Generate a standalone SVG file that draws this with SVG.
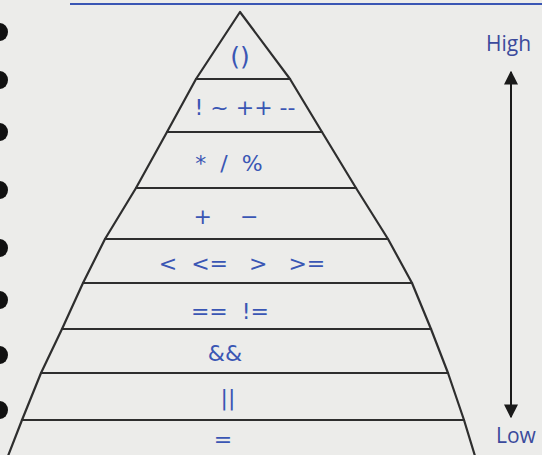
<svg xmlns="http://www.w3.org/2000/svg" width="542" height="455" viewBox="0 0 542 455">
<defs>
<style>
.bg{fill:#ececea}
.tier{fill:none;stroke:#2e2e2e;stroke-width:2.2;stroke-linejoin:round}
.op{font-family:"DejaVu Sans",sans-serif;font-size:22px;fill:#3a56b4;text-anchor:middle}
.lbl{font-family:"Open Sans","DejaVu Sans",sans-serif;font-size:21px;fill:#3b4a9c}
.hole{fill:#111}
.conn{stroke:#1a1a1a;stroke-width:2;fill:none}
</style>
<marker id="ah" viewBox="0 0 10 10" refX="9" refY="5" markerWidth="7" markerHeight="7" orient="auto-start-reverse" markerUnits="strokeWidth">
<path d="M0,0 L10,5 L0,10 Z" fill="#1a1a1a"/>
</marker>
</defs>
<rect class="bg" x="0" y="0" width="542" height="455"/>
<line x1="70" y1="4" x2="542" y2="4" stroke="#3a56b4" stroke-width="2"/>
<g id="holes">
<ellipse class="hole" cx="0" cy="32" rx="8" ry="9"/>
<ellipse class="hole" cx="0" cy="80" rx="8" ry="9"/>
<ellipse class="hole" cx="0" cy="132" rx="8" ry="9"/>
<ellipse class="hole" cx="0" cy="190" rx="8" ry="9"/>
<ellipse class="hole" cx="0" cy="248" rx="8" ry="9"/>
<ellipse class="hole" cx="0" cy="300" rx="8" ry="9"/>
<ellipse class="hole" cx="0" cy="355" rx="8" ry="9"/>
<ellipse class="hole" cx="0" cy="410" rx="8" ry="9"/>
</g>
<g id="tier1"><polygon class="tier" points="240,12 290,79 196,79"/><text class="op" x="240" y="65" style="font-size:25px">()</text></g>
<g id="tier2"><polygon class="tier" points="196,79 290,79 322,132 167,132"/><text class="op" x="245" y="115">! ~ ++ --</text></g>
<g id="tier3"><polygon class="tier" points="167,132 322,132 356,188 136,188"/><text class="op" x="229" y="171" xml:space="preserve">*  /  %</text></g>
<g id="tier4"><polygon class="tier" points="136,188 356,188 388,239 105,239"/><text class="op" x="226" y="224" xml:space="preserve">+    −</text></g>
<g id="tier5"><polygon class="tier" points="105,239 388,239 412,283 83,283"/><text class="op" x="242" y="271" xml:space="preserve">&lt;  &lt;=   &gt;   &gt;=</text></g>
<g id="tier6"><polygon class="tier" points="83,283 412,283 431,329 62,329"/><text class="op" x="230" y="319" xml:space="preserve">==  !=</text></g>
<g id="tier7"><polygon class="tier" points="62,329 431,329 448,373 41,373"/><text class="op" x="225" y="361">&amp;&amp;</text></g>
<g id="tier8"><polygon class="tier" points="41,373 448,373 464,420 22,420"/><text class="op" x="228" y="405">||</text></g>
<g id="tier9"><polygon class="tier" points="22,420 464,420 475,456 8,456"/><text class="op" x="223" y="447">=</text></g>
<g id="labels">
<text class="lbl" x="486" y="51">High</text>
<text class="lbl" x="496" y="443">Low</text>
</g>
<g id="connectors">
<line class="conn" x1="511" y1="72" x2="511" y2="417" marker-start="url(#ah)" marker-end="url(#ah)"/>
</g>
</svg>
